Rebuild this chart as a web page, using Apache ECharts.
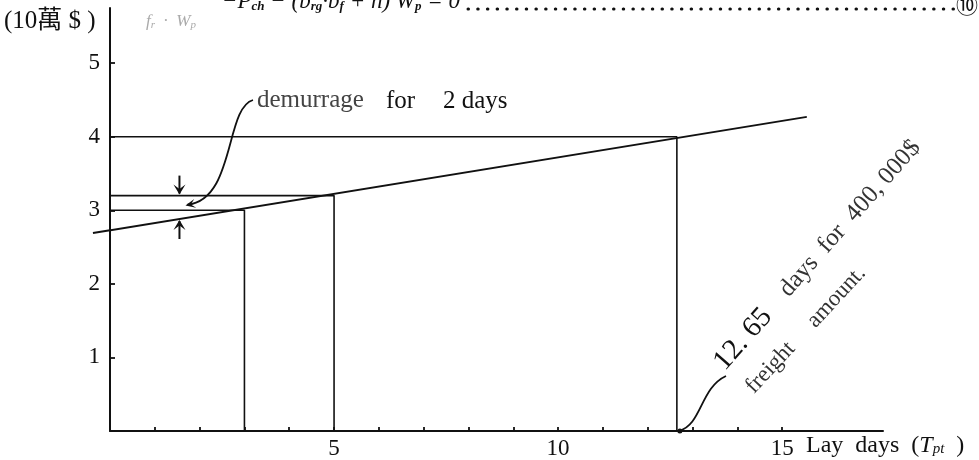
<!DOCTYPE html>
<html>
<head>
<meta charset="utf-8">
<script src="https://cdn.jsdelivr.net/npm/echarts@6.0.0/dist/echarts.min.js"></script>
<style>
html,body{margin:0;padding:0;background:#fff;}
#c{width:979px;height:460px;}
</style>
</head>
<body>
<div id="c"></div>
<script>
// ---- data ----
const xTickValues = [1,2,3,4,5,6,7,8,9,10,11,12,13,14,15];
const xLabelValues = [5,10,15];
const yTickValues = [1,2,3,4,5];
const yLabelValues = [1,2,3,4,5];
const revenueLine = [[-0.38, 2.69], [15.55, 4.27]];
const guideX = [3, 5, 12.65];
const guideY = [3.0, 3.2, 4.0];

const SERIF = '"Liberation Serif", "DejaVu Serif", "Noto Sans CJK TC", serif';

const guideSeries = guideX.map((gx, i) => ({
  type: 'line',
  data: [[0, guideY[i]], [gx, guideY[i]], [gx, 0]],
  symbol: 'none',
  silent: true,
  lineStyle: { color: '#111', width: 1.6 },
  z: 2
}));

const option = {
  animation: false,
  backgroundColor: '#fff',
  grid: { left: 110, right: 96, top: 8, bottom: 29, containLabel: false },
  xAxis: {
    type: 'value', min: 0, max: 17.25,
    axisLine: { show: true, lineStyle: { color: '#111', width: 2 } },
    axisTick: { show: true, inside: true, length: 4, customValues: xTickValues, lineStyle: { color: '#111', width: 1.8 } },
    axisLabel: { show: true, customValues: xLabelValues, margin: 6, color: '#111', fontSize: 23, fontFamily: SERIF },
    splitLine: { show: false }
  },
  yAxis: {
    type: 'value', min: 0, max: 5.75,
    axisLine: { show: true, lineStyle: { color: '#111', width: 2 } },
    axisTick: { show: true, inside: true, length: 5, customValues: yTickValues, lineStyle: { color: '#111', width: 1.8 } },
    axisLabel: { show: true, customValues: yLabelValues, margin: 10, color: '#111', fontSize: 23, fontFamily: SERIF },
    splitLine: { show: false }
  },
  series: [
    {
      type: 'line',
      data: revenueLine,
      symbol: 'none',
      clip: false,
      silent: true,
      lineStyle: { color: '#111', width: 2 },
      z: 3
    }
  ].concat(guideSeries)
};

const chart = echarts.init(document.getElementById('c'), null, { renderer: 'canvas' });
chart.setOption(option);

const P = (x, y) => chart.convertToPixel({ gridIndex: 0 }, [x, y]);

function arrowHead(tip, angle, len, half) {
  const bx = tip[0] - Math.cos(angle) * len, by = tip[1] - Math.sin(angle) * len;
  const nx = -Math.sin(angle) * half, ny = Math.cos(angle) * half;
  return {
    type: 'polygon', silent: true, z: 10,
    shape: { points: [tip, [bx + nx, by + ny], [tip[0] - Math.cos(angle) * len * 0.55, tip[1] - Math.sin(angle) * len * 0.55], [bx - nx, by - ny]] },
    style: { fill: '#111' }
  };
}

// annotation anchors
const arrowX = 1.55;
const topTip = P(arrowX, guideY[1]);
const slope = (revenueLine[1][1] - revenueLine[0][1]) / (revenueLine[1][0] - revenueLine[0][0]);
const lineAt = revenueLine[0][1] + slope * (arrowX - revenueLine[0][0]);
const botTip = P(arrowX, lineAt);
const foot = P(guideX[2], 0);
const stubA = P(revenueLine[0][0], revenueLine[0][1]);
const stubB = P(0, revenueLine[0][1] + slope * (0 - revenueLine[0][0]));

const txt = (x, y, text, size, fill, extra) => Object.assign({
  type: 'text', x: x, y: y, silent: true,
  style: { text: text, font: size + 'px ' + SERIF, fill: fill || '#111', textVerticalAlign: 'middle' }
}, extra || {});

const graphic = [
  // line stub left of the y axis
  {
    type: 'line', silent: true, z: 5,
    shape: { x1: stubA[0], y1: stubA[1], x2: stubB[0], y2: stubB[1] },
    style: { stroke: '#111', lineWidth: 2 }
  },
  // clipped formula at the very top
  {
    type: 'text', x: 222, y: 2, silent: true,
    style: {
      text: '{i|−P}{s|ch}{i| − (b}{s|rg}{i|·b}{s|f}{i| + h) W}{s|p}{i| = 0}',
      textVerticalAlign: 'middle', textAlign: 'left',
      rich: {
        i: { fontFamily: SERIF, fontSize: 23, fontStyle: 'italic', fill: '#111' },
        s: { fontFamily: SERIF, fontSize: 13, fontStyle: 'italic', fontWeight: 'bold', fill: '#111', padding: [9, 0, 0, 0] }
      }
    }
  },
  {
    type: 'line', silent: true,
    shape: { x1: 468, y1: 9, x2: 954, y2: 9 },
    style: { stroke: '#111', lineWidth: 3, lineDash: [0.5, 9.2], lineCap: 'round' }
  },
  txt(956, 7, '⑩', 22),
  // y-axis unit
  {
    type: 'text', x: 4, y: 21, silent: true,
    style: { text: '(10萬 $ )', font: '25px "Liberation Serif", "Noto Sans CJK TC", serif', fill: '#111', textVerticalAlign: 'middle' }
  },
  {
    type: 'text', x: 146, y: 22, silent: true,
    style: {
      text: '{i|f}{s|r}{i|  ·  W}{s|p}', textVerticalAlign: 'middle',
      rich: {
        i: { fontFamily: SERIF, fontSize: 17, fontStyle: 'italic', fill: '#aaa' },
        s: { fontFamily: SERIF, fontSize: 11, fontStyle: 'italic', fill: '#aaa', padding: [6, 0, 0, 0] }
      }
    }
  },
  // x axis name
  {
    type: 'text', x: 806, y: 446, silent: true,
    style: {
      text: '{n|Lay  days  (}{i|T}{s|pt}{n|  )}', textVerticalAlign: 'middle',
      rich: {
        n: { fontFamily: SERIF, fontSize: 24, fill: '#111' },
        i: { fontFamily: SERIF, fontSize: 24, fontStyle: 'italic', fill: '#111' },
        s: { fontFamily: SERIF, fontSize: 15, fontStyle: 'italic', fill: '#111', padding: [6, 0, 0, 0] }
      }
    }
  },
  // demurrage annotation
  txt(257, 100, 'demurrage', 25, '#444'),
  txt(386, 101, 'for', 25, '#111'),
  txt(443, 101, '2 days', 25, '#111'),
  {
    type: 'bezierCurve', silent: true,
    shape: { x1: 253, y1: 100, cpx1: 225, cpy1: 108, cpx2: 235, cpy2: 200, x2: topTip[0] + 8, y2: topTip[1] + 9 },
    style: { stroke: '#111', lineWidth: 1.8, fill: null }
  },
  arrowHead([topTip[0] + 6, topTip[1] + 10], Math.PI * 0.93, 10, 4.5),
  // small vertical arrows
  {
    type: 'line', silent: true,
    shape: { x1: topTip[0], y1: topTip[1] - 20, x2: topTip[0], y2: topTip[1] - 2 },
    style: { stroke: '#111', lineWidth: 2 }
  },
  arrowHead([topTip[0], topTip[1] - 1], Math.PI / 2, 10, 6),
  {
    type: 'line', silent: true,
    shape: { x1: botTip[0], y1: botTip[1] + 20, x2: botTip[0], y2: botTip[1] + 2 },
    style: { stroke: '#111', lineWidth: 2 }
  },
  arrowHead([botTip[0], botTip[1] + 1], -Math.PI / 2, 10, 6),
  // 12.65 annotation
  {
    type: 'bezierCurve', silent: true,
    shape: { x1: 726, y1: 376, cpx1: 700, cpy1: 388, cpx2: 702, cpy2: 425, x2: foot[0] + 2, y2: foot[1] },
    style: { stroke: '#111', lineWidth: 1.8, fill: null }
  },
  {
    type: 'circle', silent: true, shape: { cx: foot[0] + 3, cy: foot[1], r: 2.5 }, style: { fill: '#111' }
  },
  {
    type: 'text', x: 730, y: 376, rotation: 48.5 * Math.PI / 180, silent: true,
    style: {
      text: '{b|12. 65}{n|    days  for  400, 000$}', textVerticalAlign: 'bottom', textAlign: 'left',
      rich: {
        b: { fontFamily: SERIF, fontSize: 29, fill: '#111' },
        n: { fontFamily: SERIF, fontSize: 25, fill: '#333' }
      }
    }
  },
  {
    type: 'text', x: 758, y: 398, rotation: 47 * Math.PI / 180, silent: true,
    style: {
      text: 'freight     amount.', textVerticalAlign: 'bottom', textAlign: 'left',
      font: '23px ' + SERIF, fill: '#333'
    }
  }
];

chart.setOption({ graphic: graphic });
</script>
</body>
</html>
